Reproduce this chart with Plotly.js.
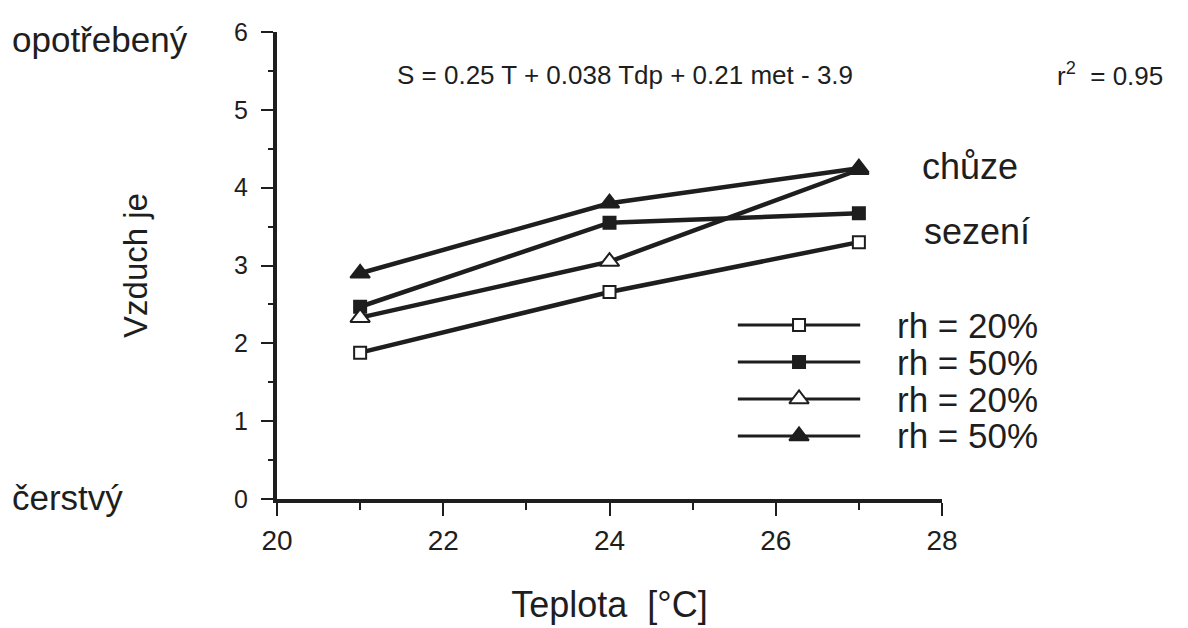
<!DOCTYPE html>
<html>
<head>
<meta charset="utf-8">
<script src="https://cdn.plot.ly/plotly-3.0.1.min.js"></script>
<style>html,body{margin:0;padding:0;background:#fff;}#chart{width:1188px;height:628px;}</style>
</head>
<body>
<div id="chart"></div>
<script>
// Data
var teplota = [21, 24, 27];
var sezeni_rh20 = [1.88, 2.66, 3.30];   // open squares
var sezeni_rh50 = [2.47, 3.55, 3.67];   // filled squares
var chuze_rh20 = [2.33, 3.05, 4.23];    // open triangles
var chuze_rh50 = [2.90, 3.80, 4.25];    // filled triangles
var legendLabels = ['rh = 20%', 'rh = 50%', 'rh = 20%', 'rh = 50%'];
var xTicks = [20, 22, 24, 26, 28];
var yTicks = [0, 1, 2, 3, 4, 5, 6];

var ink = '#1e1e1e';
var font = 'Liberation Sans, Arial, sans-serif';

var styles = [
  {symbol: 'square', color: '#ffffff', size: 12},
  {symbol: 'square', color: ink, size: 12},
  {symbol: 'triangle-up', color: '#ffffff', size: 17},
  {symbol: 'triangle-up', color: ink, size: 17}
];
var series = [sezeni_rh20, sezeni_rh50, chuze_rh20, chuze_rh50];

var traces = [];
series.forEach(function (ys, i) {
  traces.push({
    x: teplota, y: ys, type: 'scatter', mode: 'lines+markers',
    line: {color: ink, width: 4.5},
    marker: {symbol: styles[i].symbol, size: styles[i].size, color: styles[i].color,
             line: {color: ink, width: 2}},
    showlegend: false, cliponaxis: false, hoverinfo: 'skip'
  });
});
// custom legend samples on a hidden overlay axis
legendLabels.forEach(function (lab, i) {
  traces.push({
    x: [0, 1], y: [i, i], xaxis: 'x2', yaxis: 'y2',
    type: 'scatter', mode: 'lines',
    line: {color: ink, width: 3},
    showlegend: false, cliponaxis: false, hoverinfo: 'skip'
  });
  traces.push({
    x: [0.5], y: [i], xaxis: 'x2', yaxis: 'y2',
    type: 'scatter', mode: 'markers',
    marker: {symbol: styles[i].symbol, size: styles[i].size, color: styles[i].color, opacity: 1,
             line: {color: ink, width: 2}},
    showlegend: false, cliponaxis: false, hoverinfo: 'skip'
  });
});

var annotations = [
  {xref: 'paper', yref: 'paper', x: -0.4015, y: 0.985, xanchor: 'left', yanchor: 'middle',
   text: 'opotřebený', showarrow: false, font: {family: font, size: 35, color: ink}},
  {xref: 'paper', yref: 'paper', x: -0.4015, y: 0.004, xanchor: 'left', yanchor: 'middle',
   text: 'čerstvý', showarrow: false, font: {family: font, size: 35, color: ink}},
  {xref: 'paper', yref: 'paper', x: 0.177, y: 0.908, xanchor: 'left', yanchor: 'middle',
   text: 'S = 0.25 T + 0.038 Tdp + 0.21 met - 3.9', showarrow: false, font: {family: font, size: 26, color: ink}},
  {xref: 'paper', yref: 'paper', x: 1.17, y: 0.91, xanchor: 'left', yanchor: 'middle',
   text: 'r<sup>2</sup>&nbsp;&nbsp;= 0.95', showarrow: false, font: {family: font, size: 26, color: ink}},
  {xref: 'paper', yref: 'paper', x: 0.967, y: 0.711, xanchor: 'left', yanchor: 'middle',
   text: 'chůze', showarrow: false, font: {family: font, size: 36, color: ink}},
  {xref: 'paper', yref: 'paper', x: 0.970, y: 0.572, xanchor: 'left', yanchor: 'middle',
   text: 'sezení', showarrow: false, font: {family: font, size: 36, color: ink}}
];
legendLabels.forEach(function (lab, i) {
  annotations.push({xref: 'paper', yref: 'y2', x: 0.929, y: i, xanchor: 'left', yanchor: 'middle',
    text: lab, showarrow: false, font: {family: font, size: 35, color: ink}});
});

var layout = {
  width: 1188, height: 628,
  margin: {l: 277, r: 246, t: 32, b: 129},
  paper_bgcolor: '#fff', plot_bgcolor: '#fff',
  font: {family: font, color: ink},
  showlegend: false,
  xaxis: {
    range: [20, 28], tickvals: xTicks, ticktext: xTicks.map(String),
    showgrid: false, zeroline: false, showline: true, linecolor: ink, linewidth: 4,
    ticks: 'outside', ticklen: 13, tickwidth: 2, tickcolor: ink,
    minor: {dtick: 1, ticks: 'outside', ticklen: 7, tickwidth: 2, tickcolor: ink, showgrid: false},
    tickfont: {family: font, size: 28, color: ink}, ticklabelstandoff: 0,
    title: {text: 'Teplota  [°C]', font: {family: font, size: 36, color: ink}, standoff: 38},
    automargin: false, fixedrange: true
  },
  yaxis: {
    range: [0, 6], tickvals: yTicks, ticktext: yTicks.map(String),
    showgrid: false, zeroline: false, showline: true, linecolor: ink, linewidth: 4,
    ticks: 'outside', ticklen: 12, tickwidth: 2, tickcolor: ink,
    minor: {dtick: 0.5, ticks: 'outside', ticklen: 5, tickwidth: 2, tickcolor: ink, showgrid: false},
    tickfont: {family: font, size: 25, color: ink}, ticklabelstandoff: 8,
    title: {text: 'Vzduch je', font: {family: font, size: 33, color: ink}, standoff: 78},
    automargin: false, fixedrange: true
  },
  xaxis2: {domain: [0.6746, 0.8954], range: [-0.1, 1.1], visible: false, anchor: 'y2', fixedrange: true},
  yaxis2: {domain: [0.0953, 0.4122], range: [3.5, -0.5], visible: false, anchor: 'x2', fixedrange: true},
  annotations: annotations
};

Plotly.newPlot('chart', traces, layout, {displayModeBar: false, staticPlot: true});
</script>
</body>
</html>
